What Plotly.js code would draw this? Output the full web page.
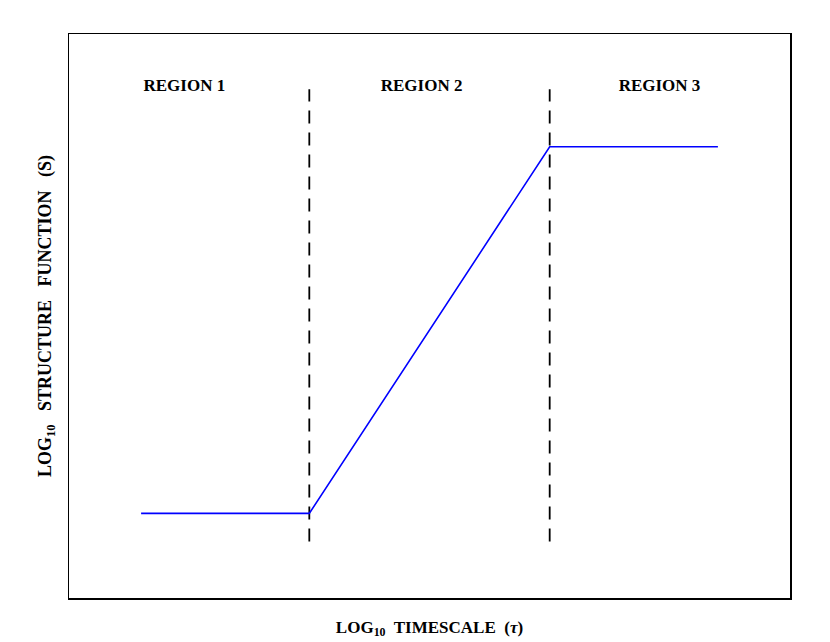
<!DOCTYPE html>
<html>
<head>
<meta charset="utf-8">
<script src="https://cdn.plot.ly/plotly-3.0.1.min.js"></script>
<style>
body { margin: 0; background: #fff; }
#chart { width: 830px; height: 642px; }
</style>
</head>
<body>
<div id="chart"></div>
<script>
// structure function sketch (log tau vs log S)
var curveX = [1, 3.333, 6.667, 9];
var curveY = [1.5, 1.5, 8.0, 8.0];

var boundX = [3.333, 6.667];
var boundY = [1.0, 9.02];

var regionNames = ['REGION 1', 'REGION 2', 'REGION 3'];
var regionX = [1.6, 4.89, 8.19];
var regionY = [9.07, 9.07, 9.07];

var serif = 'Liberation Serif, Times New Roman, serif';
var gap = '\u00a0\u00a0\u00a0';

var traces = [];
for (var i = 0; i < boundX.length; i++) {
    traces.push({
        x: [boundX[i], boundX[i]],
        y: boundY,
        type: 'scatter',
        mode: 'lines',
        line: {color: 'black', width: 1.8, dash: '13px,9px'},
        hoverinfo: 'skip',
        showlegend: false});
}
traces.push({
    x: curveX,
    y: curveY,
    type: 'scatter',
    mode: 'lines',
    line: {color: 'blue', width: 1.6},
    showlegend: false});
traces.push({
    x: regionX,
    y: regionY,
    text: regionNames,
    type: 'scatter',
    mode: 'text',
    textfont: {family: serif, size: 17, color: 'black', weight: 'bold'},
    showlegend: false});

var axisBase = {
    showline: true, mirror: true, linecolor: 'black', linewidth: 1.5,
    showgrid: false, zeroline: false, ticks: '', showticklabels: false,
    range: [0, 10], fixedrange: true};

var layout = {
    width: 830,
    height: 642,
    margin: {l: 69, r: 40, t: 34, b: 44},
    paper_bgcolor: 'white',
    plot_bgcolor: 'white',
    font: {family: serif, color: 'black'},
    xaxis: Object.assign({}, axisBase, {
        title: {text: '<b>LOG<sub>10</sub>\u00a0 TIMESCALE\u00a0 (<i>τ</i>)</b>',
            font: {family: serif, size: 17}, standoff: 22}}),
    yaxis: Object.assign({}, axisBase, {
        title: {text: '<b>LOG<sub>10</sub>' + gap + 'STRUCTURE' + gap + 'FUNCTION' + gap + '(S)</b>',
            font: {family: serif, size: 18}, standoff: 11}})
};

Plotly.newPlot('chart', traces, layout, {displayModeBar: false, staticPlot: true});
</script>
</body>
</html>
